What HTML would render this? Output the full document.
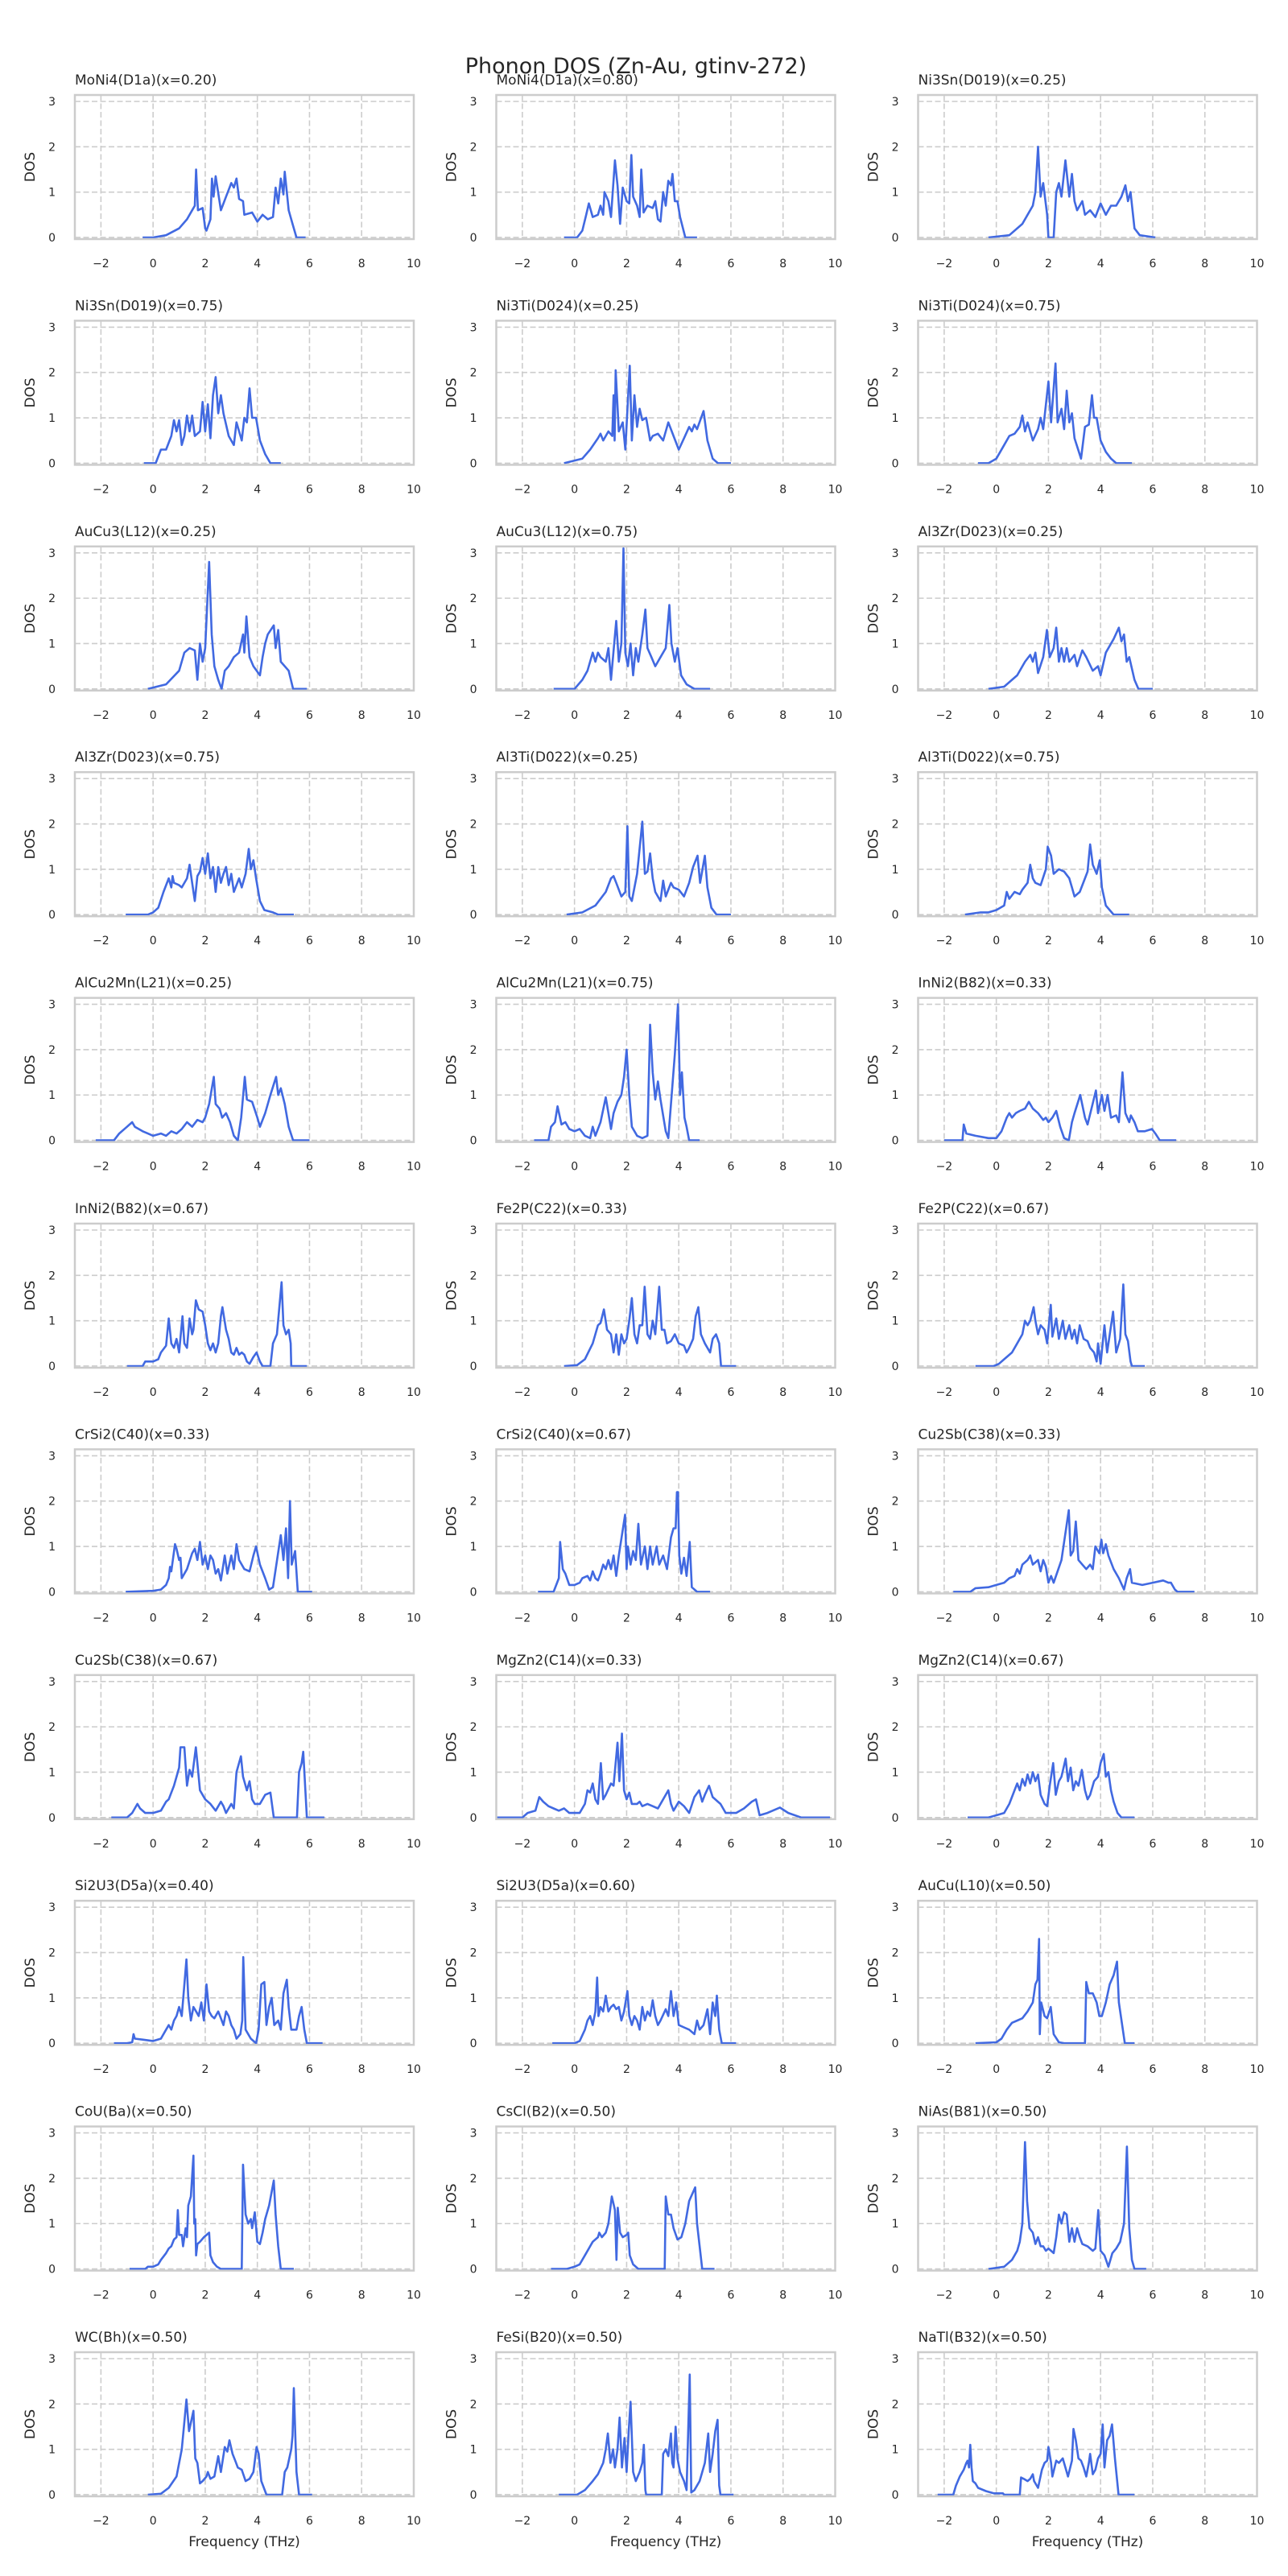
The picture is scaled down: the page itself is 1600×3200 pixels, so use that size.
<!DOCTYPE html>
<html><head><meta charset="utf-8">
<style>
html,body{margin:0;padding:0;background:#fff;}
svg{display:block;font-family:"DejaVu Sans","Liberation Sans",sans-serif;}
</style></head>
<body>
<svg id="fig" width="1600" height="3200" viewBox="0 0 1600 3200" xmlns="http://www.w3.org/2000/svg">
<rect x="0" y="0" width="1600" height="3200" fill="#fff"/>
<text x="790" y="91" font-size="27" text-anchor="middle" fill="#262626">Phonon DOS (Zn-Au, gtinv-272)</text>
</svg>
<script>
// ---- chart data (frequency THz, DOS) pairs ----
const xTicks = [-2, 0, 2, 4, 6, 8, 10];
const yTicks = [0, 1, 2, 3];
const titles = [
 "MoNi4(D1a)(x=0.20)","MoNi4(D1a)(x=0.80)","Ni3Sn(D019)(x=0.25)",
 "Ni3Sn(D019)(x=0.75)","Ni3Ti(D024)(x=0.25)","Ni3Ti(D024)(x=0.75)",
 "AuCu3(L12)(x=0.25)","AuCu3(L12)(x=0.75)","Al3Zr(D023)(x=0.25)",
 "Al3Zr(D023)(x=0.75)","Al3Ti(D022)(x=0.25)","Al3Ti(D022)(x=0.75)",
 "AlCu2Mn(L21)(x=0.25)","AlCu2Mn(L21)(x=0.75)","InNi2(B82)(x=0.33)",
 "InNi2(B82)(x=0.67)","Fe2P(C22)(x=0.33)","Fe2P(C22)(x=0.67)",
 "CrSi2(C40)(x=0.33)","CrSi2(C40)(x=0.67)","Cu2Sb(C38)(x=0.33)",
 "Cu2Sb(C38)(x=0.67)","MgZn2(C14)(x=0.33)","MgZn2(C14)(x=0.67)",
 "Si2U3(D5a)(x=0.40)","Si2U3(D5a)(x=0.60)","AuCu(L10)(x=0.50)",
 "CoU(Ba)(x=0.50)","CsCl(B2)(x=0.50)","NiAs(B81)(x=0.50)",
 "WC(Bh)(x=0.50)","FeSi(B20)(x=0.50)","NaTl(B32)(x=0.50)"
];
const dosMoNi4a = [-0.4,0,0,0,0.5,0.05,1,0.2,1.3,0.4,1.5,0.6,1.6,0.7,1.65,1.5,1.72,0.6,1.9,0.65,2.0,0.2,2.05,0.15,2.2,0.4,2.26,1.3,2.32,0.9,2.4,1.35,2.6,0.6,2.8,0.9,2.9,1.05,3.0,1.2,3.1,1.1,3.2,1.3,3.3,0.85,3.45,0.8,3.5,0.5,3.8,0.55,4.0,0.35,4.2,0.5,4.4,0.4,4.6,0.45,4.7,1.1,4.8,0.75,4.9,1.3,5.0,0.95,5.05,1.45,5.2,0.6,5.35,0.3,5.5,0,5.85,0];
const dosMoNi4b = [-0.4,0,0.1,0,0.3,0.15,0.45,0.5,0.55,0.75,0.7,0.45,0.9,0.5,1.0,0.7,1.1,0.5,1.15,1.0,1.3,0.8,1.4,0.45,1.55,1.7,1.65,1.15,1.75,0.3,1.85,1.1,2.0,0.8,2.1,0.75,2.18,1.82,2.25,0.9,2.4,0.7,2.5,0.45,2.56,1.5,2.65,0.55,2.8,0.7,3.0,0.65,3.1,0.8,3.2,0.4,3.3,0.35,3.4,1.0,3.5,0.7,3.6,1.25,3.7,1.15,3.76,1.4,3.85,0.8,3.95,0.8,4.05,0.45,4.25,0,4.7,0];
const dosNi3Sna = [-0.3,0,0.5,0.05,1.0,0.3,1.2,0.5,1.4,0.7,1.5,1.0,1.6,2.0,1.7,0.9,1.8,1.2,1.95,0.5,2.0,0,2.2,0,2.3,1.0,2.4,1.2,2.5,0.9,2.65,1.7,2.8,0.9,2.9,1.4,3.0,0.8,3.1,0.6,3.3,0.8,3.4,0.5,3.6,0.6,3.8,0.45,4.0,0.75,4.2,0.5,4.4,0.7,4.6,0.7,4.8,0.9,4.95,1.15,5.05,0.8,5.15,1.0,5.3,0.2,5.5,0.05,6.1,0];
const dosNi3Snb = [-0.35,0,0.1,0,0.3,0.3,0.5,0.3,0.7,0.6,0.8,0.95,0.9,0.7,1.0,0.95,1.1,0.4,1.2,0.6,1.3,1.05,1.4,0.7,1.5,1.05,1.6,0.6,1.8,0.7,1.9,1.35,2.0,0.7,2.1,1.3,2.2,0.55,2.3,1.5,2.4,1.9,2.5,1.1,2.6,1.5,2.7,1.1,2.9,0.6,3.1,0.4,3.2,0.9,3.4,0.5,3.5,1.0,3.6,0.9,3.7,1.65,3.8,1.0,3.95,1.0,4.1,0.5,4.3,0.2,4.5,0,4.9,0];
const dosNi3Tia = [-0.4,0,0.3,0.1,0.6,0.3,0.9,0.55,1.0,0.65,1.1,0.5,1.3,0.7,1.45,0.6,1.5,1.5,1.54,0.5,1.58,2.05,1.7,0.7,1.85,0.9,1.95,0.3,2.12,2.15,2.2,0.5,2.3,1.5,2.4,0.8,2.5,1.2,2.6,0.95,2.75,1.0,2.9,0.5,3.0,0.6,3.2,0.65,3.4,0.5,3.6,0.9,3.8,0.6,4.0,0.3,4.2,0.55,4.4,0.8,4.5,0.7,4.6,0.85,4.7,0.75,4.95,1.15,5.1,0.5,5.3,0.1,5.5,0,6.0,0];
const dosNi3Tib = [-0.7,0,-0.3,0,0,0.1,0.3,0.4,0.5,0.6,0.7,0.65,0.9,0.8,1.0,1.05,1.1,0.7,1.2,0.9,1.4,0.5,1.6,0.75,1.7,1.0,1.8,0.75,2.0,1.8,2.1,0.9,2.27,2.2,2.35,0.9,2.5,1.2,2.6,0.75,2.7,1.6,2.8,0.9,2.9,1.1,3.0,0.55,3.25,0.1,3.4,0.8,3.55,0.85,3.67,1.5,3.75,1.0,3.85,1.0,4.0,0.5,4.2,0.25,4.4,0.1,4.6,0,5.2,0];
const dosAuCu3a = [-0.2,0,0.5,0.1,1.0,0.4,1.2,0.8,1.4,0.9,1.6,0.85,1.7,0.2,1.8,1.0,1.9,0.6,2.0,0.9,2.15,2.8,2.25,1.2,2.35,0.5,2.5,0.2,2.63,0,2.75,0.4,2.9,0.5,3.1,0.7,3.3,0.8,3.45,1.2,3.5,0.8,3.58,1.6,3.7,0.7,3.85,0.5,4.1,0.3,4.2,0.7,4.3,1.0,4.4,1.2,4.63,1.4,4.7,0.9,4.8,1.3,4.9,0.6,5.2,0.4,5.37,0,5.9,0];
const dosAuCu3b = [-0.8,0,0,0,0.3,0.2,0.5,0.4,0.7,0.8,0.8,0.6,0.9,0.8,1.0,0.7,1.2,0.6,1.3,0.9,1.4,0.2,1.6,1.5,1.7,0.6,1.8,1.0,1.88,3.1,1.95,0.8,2.05,0.5,2.15,1.0,2.25,0.3,2.35,0.9,2.45,0.6,2.6,1.2,2.72,1.75,2.8,0.9,2.95,0.7,3.1,0.5,3.3,0.7,3.5,0.9,3.64,1.85,3.72,1.0,3.85,0.6,3.95,0.9,4.09,0.3,4.3,0.1,4.6,0,5.2,0];
const dosAl3Zra = [-0.3,0,0.3,0.05,0.8,0.3,1.1,0.6,1.3,0.75,1.4,0.6,1.5,0.8,1.6,0.35,1.8,0.7,1.94,1.3,2.05,0.7,2.2,0.9,2.3,1.35,2.4,0.6,2.5,0.9,2.6,0.6,2.7,0.9,2.8,0.6,3.0,0.75,3.1,0.5,3.3,0.85,3.45,0.7,3.7,0.4,3.9,0.5,4.0,0.3,4.2,0.8,4.5,1.1,4.7,1.35,4.8,1.05,4.9,1.2,5.0,0.6,5.1,0.7,5.3,0.2,5.45,0,6.0,0];
const dosAl3Zrb = [-1.05,0,-0.2,0,0,0.05,0.2,0.15,0.4,0.5,0.6,0.8,0.7,0.6,0.75,0.85,0.8,0.7,1.0,0.65,1.1,0.6,1.3,0.8,1.4,1.1,1.5,0.7,1.6,0.3,1.7,0.85,1.8,0.95,1.9,1.25,2.0,0.9,2.1,1.35,2.2,0.8,2.3,1.05,2.4,0.5,2.5,1.05,2.6,0.7,2.7,0.9,2.8,1.05,2.9,0.65,3.0,0.9,3.1,0.5,3.3,0.8,3.4,0.6,3.55,0.9,3.67,1.45,3.75,1.0,3.85,1.2,3.95,0.8,4.1,0.3,4.27,0.1,4.6,0.05,4.8,0,5.4,0];
const dosAl3Tia = [-0.3,0,0.3,0.05,0.8,0.2,1.2,0.5,1.4,0.8,1.5,0.85,1.6,0.7,1.8,0.4,1.95,0.5,2.03,1.95,2.1,0.4,2.2,0.3,2.4,0.9,2.6,2.05,2.7,0.9,2.8,0.95,2.9,1.35,3.0,0.8,3.1,0.5,3.3,0.3,3.4,0.75,3.5,0.4,3.7,0.7,3.8,0.6,4.0,0.55,4.2,0.4,4.4,0.7,4.55,1.05,4.72,1.3,4.82,0.7,5.0,1.3,5.1,0.6,5.25,0.15,5.45,0,6.0,0];
const dosAl3Tib = [-1.2,0,-0.6,0.05,-0.3,0.05,0,0.1,0.3,0.2,0.4,0.5,0.5,0.35,0.7,0.5,0.9,0.45,1.0,0.55,1.2,0.7,1.3,1.1,1.4,0.8,1.5,0.7,1.7,0.65,1.9,1.0,1.97,1.5,2.1,1.3,2.2,0.9,2.4,1.0,2.6,0.95,2.8,0.8,2.9,0.6,3.0,0.4,3.2,0.5,3.4,0.8,3.5,0.95,3.6,1.55,3.7,1.1,3.85,0.9,3.97,1.2,4.05,0.6,4.2,0.2,4.35,0.1,4.5,0,5.1,0];
const dosAlCu2Mna = [-2.2,0,-1.5,0,-1.3,0.15,-1.0,0.3,-0.8,0.4,-0.7,0.3,-0.4,0.2,-0.2,0.15,0,0.1,0.3,0.15,0.5,0.1,0.7,0.2,0.9,0.15,1.1,0.25,1.3,0.4,1.5,0.3,1.7,0.45,1.9,0.4,2.0,0.5,2.15,0.8,2.33,1.4,2.4,0.8,2.55,0.7,2.65,0.5,2.8,0.6,2.95,0.4,3.1,0.1,3.25,0,3.38,0.5,3.52,1.4,3.6,0.9,3.8,0.85,4.0,0.5,4.1,0.3,4.3,0.6,4.5,1.0,4.72,1.4,4.8,1.0,4.9,1.15,5.05,0.8,5.2,0.3,5.37,0,6.0,0];
const dosAlCu2Mnb = [-1.55,0,-1.0,0,-0.9,0.3,-0.75,0.4,-0.65,0.75,-0.5,0.35,-0.35,0.4,-0.2,0.25,0,0.2,0.2,0.25,0.4,0.1,0.6,0.05,0.7,0.3,0.8,0.1,1.0,0.4,1.2,0.95,1.3,0.6,1.4,0.25,1.5,0.6,1.65,0.85,1.8,1.0,1.9,1.4,2.0,2.0,2.1,1.0,2.2,0.3,2.4,0.1,2.6,0.05,2.8,0.1,2.9,2.55,3.0,1.5,3.1,0.9,3.2,1.3,3.3,0.9,3.5,0.2,3.6,0.05,3.7,0.8,3.85,1.9,3.97,3.0,4.05,1.0,4.12,1.5,4.22,0.5,4.3,0.3,4.4,0,4.8,0];
const dosInNi2a = [-2.0,0,-1.3,0,-1.25,0.35,-1.15,0.15,-0.8,0.1,-0.3,0.05,0,0.05,0.2,0.2,0.4,0.5,0.5,0.6,0.6,0.5,0.75,0.6,0.9,0.65,1.1,0.7,1.25,0.85,1.4,0.7,1.6,0.6,1.8,0.45,1.9,0.5,2.0,0.4,2.15,0.5,2.3,0.65,2.45,0.3,2.6,0.05,2.78,0,2.9,0.4,3.0,0.6,3.22,1.0,3.4,0.5,3.5,0.35,3.65,0.7,3.82,1.1,3.9,0.6,4.05,1.0,4.15,0.65,4.27,1.0,4.4,0.5,4.6,0.55,4.7,0.4,4.84,1.5,4.95,0.6,5.1,0.4,5.16,0.55,5.3,0.4,5.43,0.2,5.7,0.2,5.97,0.25,6.1,0.15,6.27,0,6.9,0];
const dosInNi2b = [-1.0,0,-0.4,0,-0.3,0.1,0,0.1,0.2,0.15,0.3,0.3,0.5,0.45,0.6,1.05,0.7,0.5,0.8,0.4,0.9,0.6,1.0,0.3,1.13,1.1,1.2,0.5,1.3,0.4,1.4,1.05,1.5,0.7,1.55,0.8,1.64,1.45,1.75,1.25,1.9,1.2,2.0,0.9,2.1,0.5,2.2,0.35,2.3,0.5,2.4,0.3,2.5,0.5,2.6,1.1,2.66,1.3,2.8,0.8,2.9,0.6,3.0,0.3,3.1,0.25,3.2,0.4,3.3,0.25,3.4,0.3,3.5,0.25,3.6,0.1,3.7,0.05,3.85,0.2,3.97,0.3,4.1,0.1,4.2,0,4.5,0,4.6,0.5,4.75,0.7,4.93,1.85,5.0,0.9,5.1,0.7,5.2,0.8,5.28,0.5,5.3,0,5.9,0];
const dosFe2Pa = [-0.4,0,0.1,0.02,0.4,0.15,0.7,0.5,0.9,0.9,1.0,0.95,1.13,1.25,1.25,0.8,1.4,0.7,1.5,0.3,1.6,0.7,1.7,0.25,1.8,0.7,1.9,0.5,2.0,0.6,2.1,1.0,2.2,1.5,2.3,0.7,2.4,0.5,2.5,0.9,2.6,0.9,2.69,1.75,2.8,0.7,2.9,0.6,3.0,1.0,3.1,0.7,3.25,1.75,3.35,0.8,3.45,0.8,3.55,0.5,3.7,0.55,3.85,0.7,4.0,0.5,4.2,0.45,4.3,0.3,4.4,0.4,4.55,0.6,4.65,1.1,4.75,1.3,4.85,0.7,5.0,0.5,5.2,0.3,5.3,0.6,5.43,0.7,5.55,0.5,5.62,0,6.2,0];
const dosFe2Pb = [-0.8,0,-0.1,0,0.1,0.05,0.3,0.15,0.6,0.3,0.8,0.5,1.0,0.7,1.1,1.0,1.2,0.9,1.3,1.0,1.43,1.3,1.5,1.0,1.6,0.7,1.7,0.9,1.85,0.8,1.95,0.5,2.09,1.35,2.15,0.65,2.3,1.05,2.4,0.6,2.55,1.0,2.65,0.6,2.8,0.9,2.9,0.6,3.0,0.8,3.1,0.5,3.2,0.9,3.35,0.6,3.5,0.55,3.6,0.4,3.75,0.3,3.85,0.1,3.9,0.5,4.0,0.05,4.15,0.9,4.25,0.3,4.48,1.2,4.6,0.3,4.75,0.6,4.87,1.8,4.95,0.7,5.05,0.55,5.15,0.1,5.2,0,5.7,0];
const dosCrSi2a = [-1.05,0,0,0.02,0.3,0.05,0.5,0.15,0.6,0.3,0.65,0.55,0.7,0.45,0.84,1.05,0.9,0.95,1.0,0.7,1.05,0.75,1.1,0.3,1.3,0.5,1.5,0.85,1.6,0.95,1.7,0.7,1.8,1.1,1.9,0.6,2.0,0.8,2.1,0.5,2.2,0.8,2.3,0.7,2.4,0.4,2.5,0.5,2.6,0.25,2.75,0.8,2.85,0.4,3.0,0.8,3.1,0.5,3.2,1.05,3.3,0.7,3.5,0.5,3.7,0.45,3.85,0.8,3.95,1.0,4.1,0.6,4.3,0.3,4.45,0.05,4.6,0.1,4.78,0.8,4.9,1.25,5.0,0.7,5.1,1.4,5.18,0.3,5.25,2.0,5.32,0.6,5.45,0.9,5.55,0,6.1,0];
const dosCrSi2b = [-1.4,0,-0.8,0,-0.6,0.3,-0.55,1.1,-0.45,0.5,-0.35,0.4,-0.2,0.15,0,0.15,0.2,0.2,0.3,0.3,0.5,0.35,0.6,0.25,0.7,0.45,0.8,0.3,0.9,0.25,1.0,0.4,1.1,0.6,1.2,0.5,1.3,0.7,1.4,0.5,1.5,0.8,1.6,0.35,1.7,0.8,1.94,1.7,2.0,0.5,2.05,1.0,2.15,0.6,2.25,0.9,2.35,0.7,2.45,1.5,2.55,0.6,2.7,1.0,2.8,0.5,2.9,1.0,3.0,0.6,3.15,1.0,3.25,0.6,3.4,0.8,3.55,0.5,3.7,1.2,3.8,1.4,3.88,1.4,3.93,2.2,3.97,2.2,4.02,0.8,4.1,0.4,4.2,0.75,4.3,0.35,4.42,1.1,4.5,0.1,4.7,0,5.2,0];
const dosCu2Sba = [-1.65,0,-1.0,0,-0.8,0.08,-0.3,0.1,0,0.15,0.3,0.2,0.5,0.3,0.7,0.35,0.8,0.5,0.9,0.4,1.0,0.6,1.2,0.7,1.3,0.8,1.4,0.6,1.6,0.7,1.7,0.45,1.8,0.7,1.9,0.55,2.0,0.2,2.1,0.35,2.2,0.2,2.5,0.7,2.78,1.8,2.85,0.8,2.95,0.9,3.05,1.55,3.15,0.7,3.3,0.6,3.45,0.5,3.6,0.6,3.7,0.5,3.8,1.0,3.95,0.85,4.03,1.15,4.1,0.85,4.2,1.05,4.3,0.8,4.5,0.5,4.7,0.3,4.9,0.05,5.0,0.3,5.13,0.5,5.2,0.2,5.6,0.15,6.0,0.2,6.4,0.25,6.6,0.2,6.7,0.2,6.85,0.05,6.95,0,7.6,0];
const dosCu2Sbb = [-1.6,0,-1.0,0,-0.8,0.1,-0.6,0.3,-0.5,0.2,-0.3,0.1,0,0.1,0.3,0.15,0.5,0.35,0.6,0.4,0.8,0.7,0.9,0.9,1.0,1.1,1.05,1.55,1.2,1.55,1.3,0.7,1.4,1.05,1.5,0.9,1.64,1.55,1.7,1.2,1.8,0.6,2.0,0.4,2.2,0.3,2.4,0.15,2.6,0.35,2.7,0.25,2.8,0.1,3.0,0.3,3.1,0.2,3.2,1.0,3.37,1.35,3.45,0.9,3.5,0.8,3.6,0.6,3.7,0.8,3.8,0.4,3.9,0.3,4.1,0.3,4.3,0.5,4.5,0.55,4.63,0,5.52,0,5.6,1.0,5.7,1.2,5.76,1.45,5.9,0,6.57,0];
const dosMgZn2a = [-3.0,0,-2.0,0,-1.8,0.1,-1.5,0.15,-1.35,0.45,-1.2,0.35,-1.0,0.25,-0.8,0.2,-0.6,0.15,-0.4,0.2,-0.2,0.1,0.2,0.1,0.4,0.3,0.5,0.6,0.6,0.55,0.7,0.75,0.8,0.4,0.9,0.3,1.01,1.2,1.1,0.4,1.2,0.5,1.4,0.75,1.5,0.7,1.65,1.65,1.72,0.8,1.82,1.85,1.9,0.6,2.0,0.4,2.1,0.55,2.2,0.3,2.4,0.3,2.5,0.35,2.6,0.25,2.8,0.3,3.0,0.25,3.2,0.2,3.4,0.4,3.6,0.6,3.7,0.3,3.8,0.15,4.0,0.35,4.2,0.25,4.4,0.1,4.6,0.45,4.78,0.6,4.9,0.35,5.0,0.5,5.16,0.7,5.3,0.45,5.5,0.35,5.6,0.3,5.8,0.1,6.2,0.1,6.5,0.2,6.8,0.35,6.96,0.4,7.1,0.05,7.4,0.1,7.88,0.22,8.2,0.1,8.7,0,9.8,0];
const dosMgZn2b = [-1.1,0,-0.3,0,0,0.05,0.3,0.1,0.5,0.3,0.7,0.6,0.8,0.75,0.9,0.6,1.0,0.85,1.1,0.7,1.2,0.95,1.3,0.75,1.4,1.0,1.5,0.8,1.6,0.95,1.7,0.5,1.85,0.3,1.95,0.25,2.05,0.7,2.18,1.2,2.28,0.5,2.4,0.8,2.5,0.9,2.66,1.3,2.75,0.8,2.85,1.1,2.95,0.6,3.05,0.8,3.15,0.7,3.28,1.05,3.4,0.6,3.5,0.4,3.6,0.5,3.75,0.8,3.9,0.9,4.0,1.2,4.12,1.4,4.2,0.9,4.3,1.0,4.4,0.6,4.5,0.35,4.65,0.1,4.8,0,5.3,0];
const dosSi2U3a = [-1.5,0,-1.0,0,-0.8,0.02,-0.75,0.2,-0.7,0.1,-0.4,0.08,0,0.05,0.3,0.1,0.5,0.3,0.6,0.4,0.7,0.3,0.8,0.5,0.9,0.6,1.0,0.8,1.1,0.6,1.28,1.85,1.35,1.0,1.45,0.5,1.55,0.8,1.65,0.7,1.75,0.6,1.85,0.9,1.95,0.5,2.05,1.3,2.15,0.7,2.25,0.6,2.35,0.55,2.5,0.7,2.6,0.55,2.7,0.4,2.8,0.7,2.9,0.6,3.0,0.4,3.1,0.3,3.2,0.1,3.35,0.2,3.42,0.5,3.46,1.9,3.55,0.3,3.75,0.1,3.95,0,4.05,0.3,4.15,1.3,4.27,1.35,4.35,0.4,4.45,0.8,4.55,1.0,4.65,0.4,4.8,0.5,4.9,0.3,5.0,1.1,5.13,1.4,5.2,0.8,5.3,0.3,5.5,0.3,5.6,0.6,5.7,0.8,5.8,0.3,5.9,0,6.5,0];
const dosSi2U3b = [-0.85,0,0,0,0.2,0.05,0.4,0.3,0.5,0.5,0.6,0.6,0.7,0.4,0.8,0.7,0.87,1.45,0.92,0.6,1.0,0.8,1.1,0.7,1.2,1.05,1.3,0.7,1.4,0.8,1.5,0.85,1.6,0.75,1.7,0.8,1.8,0.5,1.9,0.7,2.03,1.15,2.1,0.6,2.2,0.4,2.3,0.6,2.4,0.5,2.5,0.3,2.6,0.8,2.7,0.5,2.8,0.7,2.9,0.6,3.0,0.95,3.1,0.6,3.2,0.4,3.3,0.5,3.5,0.75,3.6,0.6,3.7,1.15,3.8,0.6,3.9,0.9,4.0,0.4,4.2,0.35,4.4,0.3,4.6,0.2,4.7,0.5,4.8,0.3,4.95,0.4,5.1,0.75,5.2,0.2,5.3,0.9,5.4,0.6,5.46,1.05,5.55,0.3,5.65,0,6.2,0];
const dosAuCu = [-0.8,0,0,0.02,0.2,0.1,0.4,0.3,0.6,0.45,0.8,0.5,1.0,0.55,1.2,0.7,1.4,0.9,1.5,1.3,1.58,1.4,1.64,2.3,1.67,0.2,1.72,0.9,1.85,0.6,1.95,0.55,2.09,0.8,2.2,0.2,2.4,0.02,2.6,0,3.4,0,3.45,1.35,3.55,1.1,3.7,1.1,3.85,0.9,3.95,0.6,4.05,0.6,4.2,0.9,4.35,1.3,4.5,1.5,4.63,1.8,4.7,0.9,4.93,0,5.3,0];
const dosCoU = [-0.9,0,-0.3,0,-0.2,0.05,0,0.05,0.2,0.1,0.3,0.2,0.5,0.35,0.6,0.45,0.7,0.5,0.8,0.65,0.9,0.7,0.95,1.3,1.0,0.75,1.1,0.75,1.15,0.5,1.25,0.9,1.3,0.7,1.35,1.4,1.45,1.6,1.55,2.5,1.58,1.0,1.62,1.1,1.65,0.3,1.7,0.55,1.8,0.6,1.95,0.7,2.15,0.8,2.2,0.3,2.3,0.15,2.45,0.05,2.6,0,3.4,0,3.45,2.3,3.55,1.2,3.65,1.0,3.75,1.1,3.8,0.9,3.9,1.25,4.0,0.6,4.1,0.55,4.2,0.8,4.3,1.1,4.45,1.4,4.63,1.95,4.7,1.2,4.8,0.5,4.9,0,5.4,0];
const dosCsCl = [-0.9,0,-0.3,0,0,0.05,0.2,0.1,0.4,0.3,0.6,0.5,0.7,0.6,0.9,0.7,0.95,0.8,1.05,0.7,1.2,0.8,1.3,1.0,1.43,1.6,1.55,1.3,1.61,0.2,1.66,1.35,1.75,0.8,1.85,0.7,2.0,0.75,2.06,0.8,2.12,0.3,2.25,0.1,2.45,0,3.46,0,3.5,1.6,3.6,1.2,3.7,1.2,3.8,0.9,3.95,0.65,4.1,0.7,4.25,1.0,4.4,1.5,4.63,1.8,4.7,1.0,4.84,0.3,4.9,0,5.37,0];
const dosNiAs = [-0.3,0,0.3,0.05,0.6,0.2,0.8,0.4,0.9,0.6,1.0,1.0,1.1,2.8,1.18,1.5,1.27,0.9,1.4,0.8,1.5,0.55,1.6,0.7,1.7,0.5,1.8,0.5,1.9,0.4,2.0,0.45,2.1,0.4,2.2,0.35,2.3,0.7,2.4,1.2,2.5,1.0,2.6,1.25,2.7,1.2,2.8,0.6,2.9,0.9,3.0,0.6,3.1,0.9,3.2,0.7,3.3,0.55,3.5,0.5,3.7,0.4,3.8,0.45,3.91,1.3,4.0,0.4,4.15,0.3,4.3,0.05,4.45,0.35,4.6,0.45,4.75,0.6,4.9,1.0,5.01,2.7,5.1,0.9,5.2,0.2,5.3,0,5.75,0];
const dosWC = [-0.2,0,0.3,0.02,0.6,0.15,0.9,0.4,1.1,1.0,1.2,1.6,1.28,2.1,1.38,1.4,1.55,1.85,1.62,0.8,1.7,0.7,1.8,0.25,1.9,0.3,2.05,0.4,2.1,0.5,2.2,0.35,2.35,0.4,2.5,0.85,2.6,0.5,2.75,1.05,2.85,0.95,2.93,1.2,3.05,0.9,3.15,0.75,3.25,0.6,3.4,0.55,3.55,0.3,3.7,0.35,3.85,0.5,3.97,1.05,4.05,0.9,4.15,0.3,4.35,0,4.95,0,5.05,0.5,5.15,0.6,5.3,1.0,5.35,1.3,5.4,2.35,5.5,0.5,5.6,0,6.1,0];
const dosFeSi = [-0.6,0,0.1,0,0.4,0.1,0.7,0.3,0.9,0.45,1.1,0.7,1.2,1.0,1.28,1.35,1.38,0.7,1.48,1.0,1.55,0.6,1.65,1.0,1.73,1.7,1.82,0.6,1.92,1.25,2.0,0.5,2.08,1.4,2.15,2.05,2.25,0.5,2.35,0.3,2.5,0.5,2.6,0.7,2.66,1.1,2.72,0.1,2.75,0,3.35,0,3.4,0.9,3.5,1.0,3.6,0.85,3.7,1.35,3.75,0.7,3.8,0.6,3.88,1.5,3.95,0.8,4.05,0.5,4.2,0.3,4.3,0.1,4.42,2.65,4.48,0.05,4.6,0.1,4.8,0.3,5.0,0.7,5.13,1.35,5.2,0.5,5.3,0.9,5.4,1.4,5.49,1.65,5.55,0.2,5.6,0,6.1,0];
const dosNaTl = [-2.25,0,-1.65,0,-1.55,0.2,-1.4,0.4,-1.25,0.55,-1.15,0.7,-1.1,0.75,-1.05,0.6,-1.0,1.1,-0.95,0.6,-0.9,0.3,-0.8,0.25,-0.7,0.15,-0.4,0.08,-0.1,0.03,0.25,0.03,0.3,0,0.9,0,0.95,0.38,1.05,0.35,1.2,0.3,1.3,0.35,1.4,0.45,1.45,0.3,1.6,0.15,1.75,0.55,1.85,0.7,1.95,0.75,2.0,1.05,2.1,0.7,2.15,0.4,2.3,0.75,2.4,0.7,2.55,0.8,2.65,0.6,2.75,0.4,2.9,0.75,2.96,1.45,3.05,1.2,3.15,0.8,3.25,0.75,3.35,0.6,3.45,0.4,3.55,0.7,3.6,0.9,3.7,0.45,3.8,0.55,3.9,0.8,4.0,0.9,4.08,1.55,4.15,0.6,4.25,1.2,4.35,1.3,4.44,1.55,4.55,0.8,4.69,0,5.3,0];
const allDos = [dosMoNi4a,dosMoNi4b,dosNi3Sna,dosNi3Snb,dosNi3Tia,dosNi3Tib,dosAuCu3a,dosAuCu3b,dosAl3Zra,dosAl3Zrb,dosAl3Tia,dosAl3Tib,dosAlCu2Mna,dosAlCu2Mnb,dosInNi2a,dosInNi2b,dosFe2Pa,dosFe2Pb,dosCrSi2a,dosCrSi2b,dosCu2Sba,dosCu2Sbb,dosMgZn2a,dosMgZn2b,dosSi2U3a,dosSi2U3b,dosAuCu,dosCoU,dosCsCl,dosNiAs,dosWC,dosFeSi,dosNaTl];

// ---- layout ----
const NS = "http://www.w3.org/2000/svg";
const svg = document.getElementById("fig");
const colLeft = [93, 616.5, 1140.5];
const axW = 421, axH = 179, rowTop0 = 118, rowPitch = 280.4;
const xMin = -3, xMax = 10, yMin = -0.036, yMax = 3.142;
function mk(tag, attrs, parent) {
  const el = document.createElementNS(NS, tag);
  for (const k in attrs) el.setAttribute(k, attrs[k]);
  (parent || svg).appendChild(el);
  return el;
}
titles.forEach((title, i) => {
  const r = Math.floor(i / 3), c = i % 3;
  const L = colLeft[c], T = rowTop0 + r * rowPitch;
  const sx = v => L + (v - xMin) / (xMax - xMin) * axW;
  const sy = v => T + (yMax - v) / (yMax - yMin) * axH;
  const g = mk("g", {});
  
  
  const t = mk("text", {x: L, y: T - 13, "font-size": 17, fill: "#262626"}, g);
  t.textContent = title;
  
  
  xTicks.forEach(v => {
    const gl = mk("line", {x1: sx(v), x2: sx(v), y1: T, y2: T + axH, stroke: "#cccccc", "stroke-width": 1.6, "stroke-dasharray": "7,3.5"}, g);
    
    
    const tl = mk("text", {x: sx(v), y: T + axH + 35, "font-size": 14, "text-anchor": "middle", fill: "#262626"}, g);
    tl.textContent = v < 0 ? "\u2212" + Math.abs(v) : String(v);
    
    
  });
  yTicks.forEach(v => {
    const gl = mk("line", {x1: L, x2: L + axW, y1: sy(v), y2: sy(v), stroke: "#cccccc", "stroke-width": 1.6, "stroke-dasharray": "7,3.5"}, g);
    
    
    const tl = mk("text", {x: L - 24, y: sy(v) + 5, "font-size": 14, "text-anchor": "end", fill: "#262626"}, g);
    tl.textContent = String(v);
    
    
  });
  const yl = mk("text", {x: L - 50, y: T + axH / 2, "font-size": 17, "text-anchor": "middle", fill: "#262626", transform: `rotate(-90 ${L - 50} ${T + axH / 2})`}, g);
  yl.textContent = "DOS";
  
  
  const d = allDos[i];
  let pts = [];
  for (let k = 0; k + 1 < d.length; k += 2) pts.push(sx(d[k]).toFixed(1) + "," + sy(d[k + 1]).toFixed(1));
  const pl = mk("polyline", {points: pts.join(" "), fill: "none", stroke: "#4169e1", "stroke-width": 2.6, "stroke-linejoin": "round"}, g);
  
  
  const fr = mk("rect", {x: L, y: T, width: axW, height: axH, fill: "none", stroke: "#cccccc", "stroke-width": 2.5}, g);
  
  
  if (r === 10) {
    const xl = mk("text", {x: L + axW / 2, y: 3163, "font-size": 17, "text-anchor": "middle", fill: "#262626"}, g);
    xl.textContent = "Frequency (THz)";
    
    
  }
});
</script>
</body></html>
